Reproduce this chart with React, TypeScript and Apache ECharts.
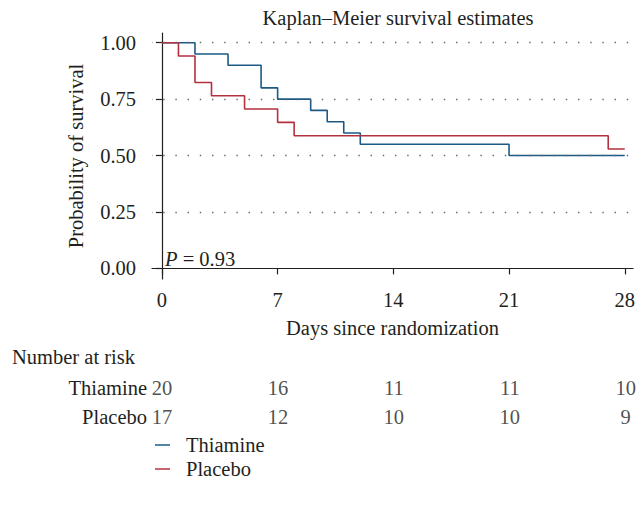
import React, { useEffect, useRef } from "react";
import * as echarts from "echarts";

const FONT = "Liberation Serif";
const TXT = "#231f20";

const xTicks = [0, 7, 14, 21, 28];
const yTicks = [0, 0.25, 0.5, 0.75, 1];
const gridLevels = [0.25, 0.5, 0.75, 1];

const thiamineDays = [0, 2, 4, 6, 7, 9, 10, 11, 12, 21, 28];
const thiamineSurv = [1, 0.95, 0.9, 0.8, 0.75, 0.7, 0.65, 0.6, 0.55, 0.5, 0.5];

const placeboDays = [0, 1, 2, 3, 5, 7, 8, 27, 28];
const placeboSurv = [1, 0.941, 0.824, 0.765, 0.706, 0.647, 0.588, 0.529, 0.529];

const riskGroups = ["Thiamine", "Placebo"];
const riskDays = [0, 7, 14, 21, 28];
const thiamineRisk = [20, 16, 11, 11, 10];
const placeboRisk = [17, 12, 10, 10, 9];

const BLUE = "#1c5a85";
const RED = "#b3303f";

export default function App() {
  const ref = useRef<HTMLDivElement>(null);
  useEffect(() => {
    const chart = echarts.init(ref.current!, null, { renderer: "svg" });
    const xMin = -0.6;
    const xMax = 28.5;
    const yMin = -0.047;
    const yMax = 1.043;
    const fs = 20.5;
    const riskData: any[] = [];
    riskDays.forEach((d, i) => {
      riskData.push([d, "Thiamine", thiamineRisk[i]]);
      riskData.push([d, "Placebo", placeboRisk[i]]);
    });
    chart.setOption({
      animation: false,
      backgroundColor: "#fff",
      textStyle: { fontFamily: FONT, color: TXT },
      title: {
        text: "Kaplan–Meier survival estimates",
        left: 393,
        textAlign: "center",
        top: 2,
        textStyle: { fontFamily: FONT, fontSize: fs, fontWeight: "normal", color: TXT },
      },
      legend: {
        orient: "vertical",
        left: 155,
        top: 433,
        padding: 0,
        itemWidth: 15,
        itemHeight: 1.5,
        itemGap: 0,
        icon: "rect",
        data: ["Thiamine", "Placebo"],
        textStyle: { fontFamily: FONT, fontSize: fs, lineHeight: 24, color: TXT, padding: [0, 0, 0, 11] },
      },
      grid: [
        { left: 152, right: 4, top: 33, bottom: 508 - 279 },
        { left: 152, right: 4, top: 374, height: 57 },
      ],
      xAxis: [
        {
          type: "value",
          gridIndex: 0,
          min: xMin,
          max: xMax,
          name: "Days since randomization",
          nameLocation: "middle",
          nameGap: 38,
          nameTextStyle: { fontFamily: FONT, fontSize: fs, color: TXT },
          axisLine: { show: true, lineStyle: { color: TXT, width: 1.2 } },
          axisTick: { show: true, customValues: xTicks, length: 6, lineStyle: { color: TXT, width: 1.2 } },
          axisLabel: { customValues: xTicks, margin: 10, fontFamily: FONT, fontSize: fs, color: TXT },
          splitLine: { show: false },
        },
        {
          type: "value",
          gridIndex: 1,
          min: xMin,
          max: xMax,
          show: false,
        },
      ],
      yAxis: [
        {
          type: "value",
          gridIndex: 0,
          min: yMin,
          max: yMax,
          name: "Probability of survival",
          nameLocation: "middle",
          nameGap: 66,
          nameTextStyle: { fontFamily: FONT, fontSize: fs, color: TXT },
          axisLine: { show: true, lineStyle: { color: TXT, width: 1.2 } },
          axisTick: { show: true, customValues: yTicks, length: 6, lineStyle: { color: TXT, width: 1.2 } },
          axisLabel: {
            customValues: yTicks,
            margin: 16,
            fontFamily: FONT,
            fontSize: fs,
            color: TXT,
            formatter: (v: number) => v.toFixed(2),
          },
          splitLine: { show: false },
        },
        {
          type: "category",
          gridIndex: 1,
          data: riskGroups,
          inverse: true,
          axisLine: { show: false },
          axisTick: { show: false },
          axisLabel: { margin: 5, fontFamily: FONT, fontSize: fs, color: TXT },
        },
      ],
      graphic: [
        {
          type: "text",
          left: 12,
          top: 346,
          style: { text: "Number at risk", font: `${fs}px "${FONT}"`, fill: TXT },
        },
        {
          type: "text",
          left: 165,
          top: 248,
          style: {
            text: "{i|P} = 0.93",
            font: `${fs}px "${FONT}"`,
            fill: TXT,
            rich: { i: { fontStyle: "italic", fontFamily: FONT, fontSize: fs, fill: TXT } },
          },
        },
      ],
      series: [
        {
          name: "Thiamine",
          type: "line",
          xAxisIndex: 0,
          yAxisIndex: 0,
          step: "end",
          symbol: "none",
          data: thiamineDays.map((d, i) => [d, thiamineSurv[i]]),
          lineStyle: { color: BLUE, width: 1.6 },
          itemStyle: { color: BLUE },
          z: 3,
          markLine: {
            silent: true,
            symbol: "none",
            label: { show: false },
            lineStyle: { color: "#666", type: [1.4, 10.8], dashOffset: 1, width: 1.3 },
            data: gridLevels.map((v) => ({ yAxis: v })),
          },
        },
        {
          name: "Placebo",
          type: "line",
          xAxisIndex: 0,
          yAxisIndex: 0,
          step: "end",
          symbol: "none",
          data: placeboDays.map((d, i) => [d, placeboSurv[i]]),
          lineStyle: { color: RED, width: 1.6 },
          itemStyle: { color: RED },
          z: 4,
        },
        {
          name: "at risk",
          type: "scatter",
          xAxisIndex: 1,
          yAxisIndex: 1,
          symbolSize: 1,
          itemStyle: { color: "rgba(0,0,0,0)" },
          data: riskData,
          label: {
            show: true,
            position: "inside",
            formatter: (p: any) => String(p.value[2]),
            fontFamily: FONT,
            fontSize: fs,
            color: TXT,
          },
        },
      ],
    });
    return () => chart.dispose();
  }, []);
  return (
    <div
      ref={ref}
      style={{ position: "fixed", left: 0, top: 0, width: 638, height: 508, background: "#fff" }}
    />
  );
}
